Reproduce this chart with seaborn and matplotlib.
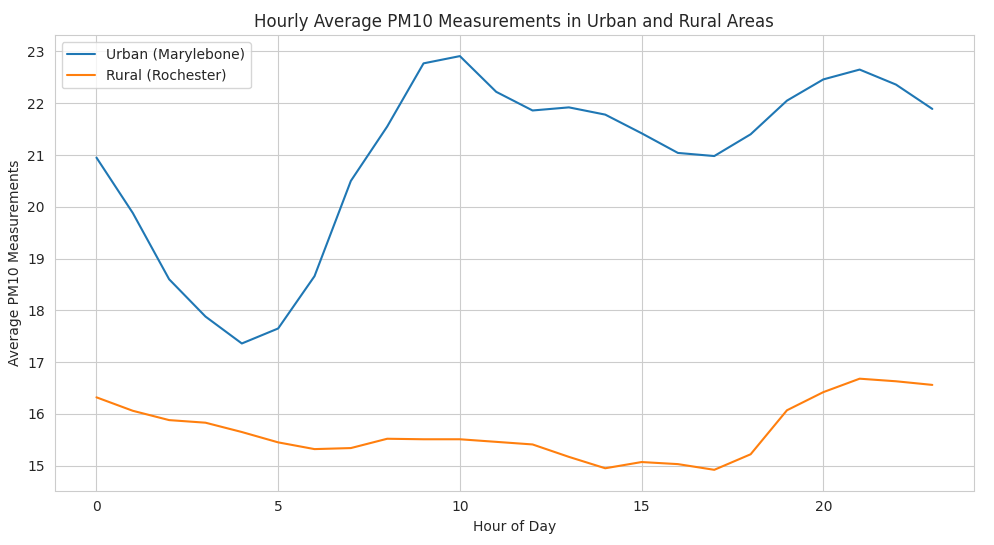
import matplotlib
matplotlib.use("Agg")
import matplotlib.pyplot as plt
import seaborn as sns
import pandas as pd

hours = list(range(24))
urban = [20.95, 19.88, 18.6, 17.88, 17.36, 17.65, 18.66, 20.5, 21.55, 22.77, 22.91, 22.22, 21.86, 21.92, 21.78, 21.42, 21.04, 20.98, 21.4, 22.05, 22.46, 22.65, 22.36, 21.89]
rural = [16.32, 16.06, 15.88, 15.83, 15.65, 15.45, 15.32, 15.34, 15.52, 15.51, 15.51, 15.46, 15.41, 15.17, 14.95, 15.07, 15.03, 14.92, 15.22, 16.07, 16.42, 16.68, 16.63, 16.56]

sns.set_style("whitegrid")
fig, ax = plt.subplots(figsize=(9.94, 5.45), dpi=100)
df = pd.DataFrame({"hour": hours * 2, "pm10": urban + rural,
                   "area": ["Urban (Marylebone)"] * 24 + ["Rural (Rochester)"] * 24})
sns.lineplot(data=df, x="hour", y="pm10", hue="area", ax=ax)
ax.legend(title=None, loc="upper left")
ax.set_title("Hourly Average PM10 Measurements in Urban and Rural Areas")
ax.set_xlabel("Hour of Day")
ax.set_ylabel("Average PM10 Measurements")
fig.subplots_adjust(left=0.055, right=0.98, top=0.935, bottom=0.1)
fig.savefig("out.png", dpi=100)
